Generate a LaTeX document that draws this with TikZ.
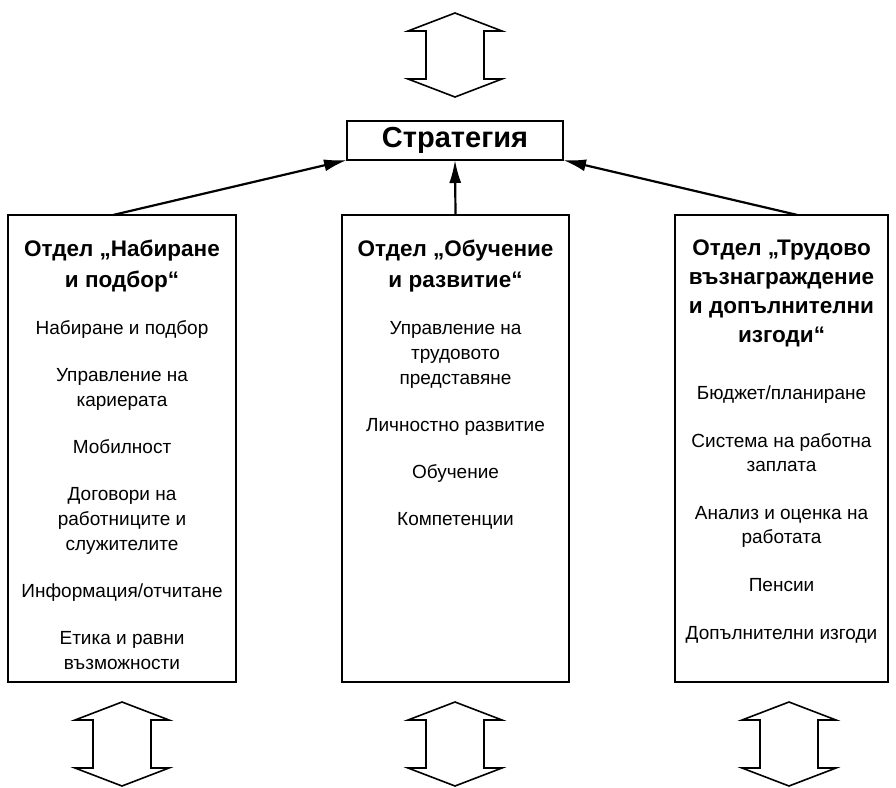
\documentclass[tikz,border=0pt]{standalone}
\usepackage{fontspec}
\setmainfont{Liberation Sans}
\usetikzlibrary{positioning,calc,arrows.meta}
\tikzset{
    dept/.style = {
        draw, rectangle, line width=2pt,
        outer sep=0,
        inner sep=0,
        minimum height=467pt
    },
    head/.style = {
        draw, rectangle, line width=2pt,
        outer sep=0,
        inner sep=0,
        minimum width=216pt,
        minimum height=39pt,
        font=\bfseries\fontsize{29}{34}\selectfont
    },
    ttl/.style = {
        align=center, inner sep=0,
        font=\bfseries\fontsize{22.5}{31}\selectfont
    },
    items/.style = {
        align=center, inner sep=0,
        font=\fontsize{19}{25}\selectfont
    },
    link/.style = {-{Latex[length=23pt,width=12pt]}, line width=2.2pt},
    twoway/.style = {draw, line width=1.6pt, line join=miter}
}
\newcommand{\twoarrow}[1]{%
  \draw[twoway] ($(#1)+(0,-42)$) -- ++(47,18) -- ++(-18,0) -- ++(0,48)
    -- ++(18,0) -- ++(-47,18) -- ++(-47,-18) -- ++(18,0) -- ++(0,-48)
    -- ++(-18,0) -- cycle;}

\begin{document}
\begin{tikzpicture}[x=1pt,y=-1pt]
\useasboundingbox (0,0) rectangle (896,787);

% 1. boxes
\node[head] (strat) at (455,140.5) {\raisebox{-2pt}{Стратегия}};
\node[dept, minimum width=228pt] (boxL) at (122,448.5) {};
\node[dept, minimum width=227pt] (boxM) at (455.5,448.5) {};
\node[dept, minimum width=213pt] (boxR) at (781.5,448.5) {};

% 2. titles and items
\node[ttl, below=25pt of boxL.north] (ttlL) {Отдел „Набиране\\и подбор“};
\node[ttl, below=25pt of boxM.north] (ttlM) {Отдел „Обучение\\и развитие“};
\node[ttl, font=\bfseries\fontsize{22.5}{29}\selectfont,
      below=25pt of boxR.north] (ttlR)
  {Отдел „Трудово\\възнаграждение\\и допълнителни\\изгоди“};

\node[items, below=28pt of ttlL] (itmL)
  {Набиране и подбор\\[22pt]Управление на\\кариерата\\[22pt]Мобилност\\[22pt]%
   Договори на\\работниците и\\служителите\\[22pt]Информация/отчитане\\[22pt]%
   Етика и равни\\възможности};
\node[items, below=29pt of ttlM] (itmM)
  {Управление на\\трудовото\\представяне\\[22pt]Личностно развитие\\[22pt]%
   Обучение\\[22pt]Компетенции};
\node[items, font=\fontsize{19}{24}\selectfont, below=38pt of ttlR] (itmR)
  {Бюджет/планиране\\[24pt]Система на работна\\заплата\\[24pt]%
   Анализ и оценка на\\работата\\[24pt]Пенсии\\[24pt]Допълнителни изгоди};

% 3. arrows to the strategy
\draw[link] (boxM.north) -- (strat.south);
\draw[link] ($(boxL.north)+(-9,0)$) -- (strat.south west);
\draw[link] ($(boxR.north)+(16,0)$) -- (strat.south east);

% 4. two-way arrows
\coordinate (arrT) at (455,55);
\coordinate (arrL) at (122,744);
\coordinate (arrM) at (455,744);
\coordinate (arrR) at (789,744);
\foreach \c in {arrT,arrL,arrM,arrR} {\twoarrow{\c}}

\end{tikzpicture}
\end{document}
